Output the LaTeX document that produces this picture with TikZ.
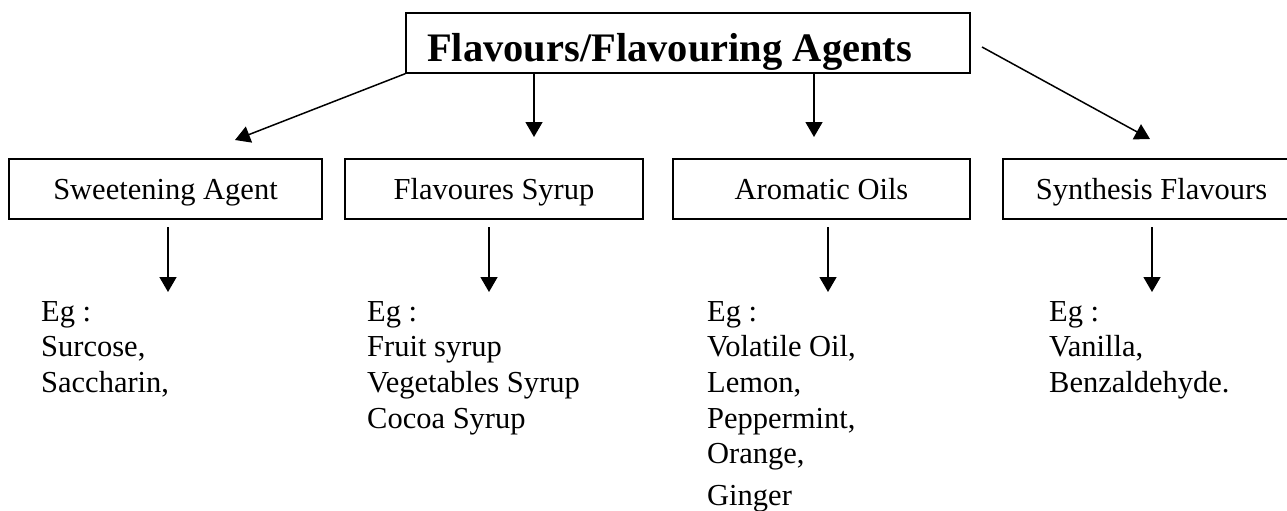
\documentclass[tikz,border=0pt]{standalone}
\usepackage{fontspec}
\setmainfont{Liberation Serif}
\usetikzlibrary{arrows.meta}
\begin{document}
\begin{tikzpicture}[x=1pt,y=-1pt,
  box/.style={draw,line width=1.3pt,minimum width=#1,minimum height=60pt,inner sep=0pt,text height=25pt,text depth=4pt,font=\fontsize{30.5}{36}\selectfont},
  arr/.style={line width=1.5pt,-{Triangle[length=15pt,width=17pt]}},
  eg/.style={anchor=north west,align=left,inner sep=0pt,font=\fontsize{30.5}{35.7}\selectfont}]
\useasboundingbox (0,0) rectangle (1287,511);

% title
\node[draw,line width=1.3pt,minimum width=564pt,minimum height=60pt,inner sep=0pt] (title) at (688,43) {};
\begin{scope}
  \clip (title.south west) rectangle (title.north east);
  \node[anchor=base west,inner sep=0pt,font=\fontsize{40.5}{44}\selectfont\bfseries] (ttext) at (427,62) {Flavours/Flavouring Agents};
\end{scope}

% second row
\node[box=313pt] (b1) at (165.5,189) {Sweetening Agent};
\node[box=298pt] (b2) at (494,189) {Flavoures Syrup};
\node[box=297pt] (b3) at (821.5,189) {Aromatic Oils};
\node[box=297pt] (b4) at (1151.5,189) {Synthesis Flavours};

% examples
\node[eg] (e1) at (41,301) {Eg :\\Surcose,\\Saccharin,};
\node[eg] (e2) at (367,301) {Eg :\\Fruit syrup\\Vegetables Syrup\\Cocoa Syrup};
\node[eg] (e3) at (707,301) {Eg :\\Volatile Oil,\\Lemon,\\Peppermint,\\Orange,\\[6pt]Ginger};
\node[eg] (e4) at (1049,301) {Eg :\\Vanilla,\\Benzaldehyde.};

% connector ends
\coordinate (t1) at (title.south west);
\coordinate (t2) at (534,73);
\coordinate (t3) at (814,73);
\coordinate (t4) at (982,47);
\coordinate (h1) at (235,140);
\coordinate (h2) at (534,137);
\coordinate (h3) at (814,137);
\coordinate (h4) at (1150,139);
\coordinate (s1) at (168,227);
\coordinate (s2) at (489,227);
\coordinate (s3) at (828,227);
\coordinate (s4) at (1152,227);
\coordinate (d1) at (168,292);
\coordinate (d2) at (489,292);
\coordinate (d3) at (828,292);
\coordinate (d4) at (1152,292);

\draw[arr] (t1) -- (h1);
\draw[arr] (t2) -- (h2);
\draw[arr] (t3) -- (h3);
\draw[arr] (t4) -- (h4);
\draw[arr] (s1) -- (d1);
\draw[arr] (s2) -- (d2);
\draw[arr] (s3) -- (d3);
\draw[arr] (s4) -- (d4);
\end{tikzpicture}
\end{document}
